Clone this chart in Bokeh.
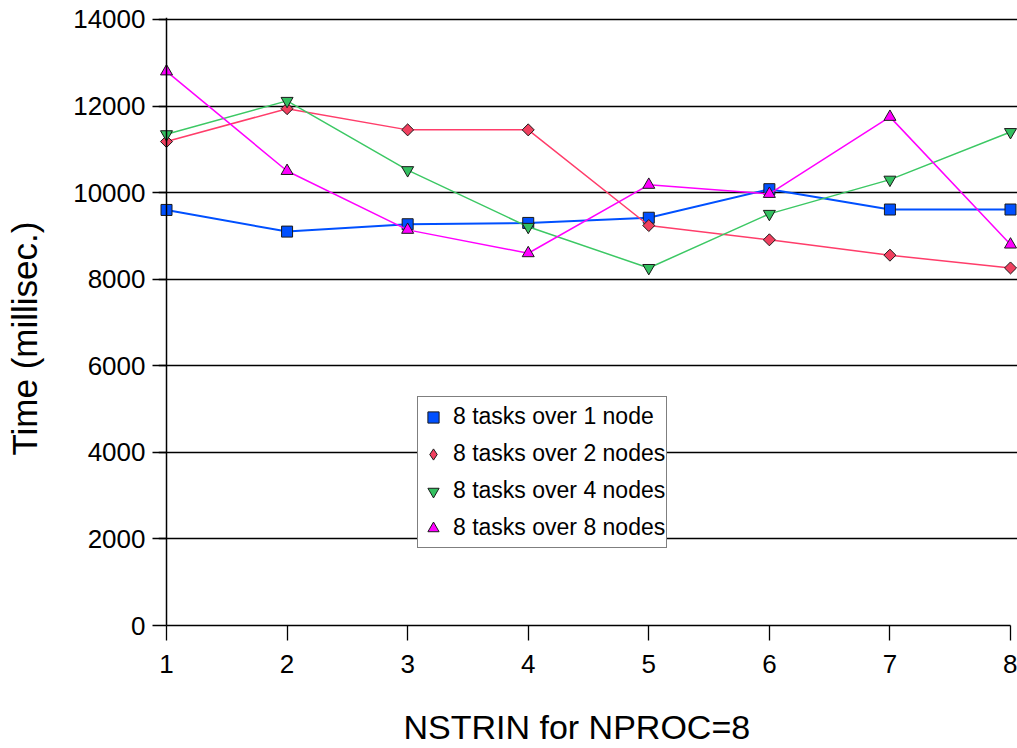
from bokeh.plotting import figure
from bokeh.models import Range1d, Legend, LegendItem, FixedTicker, Grid, Span, Title
from bokeh.embed import file_html
from bokeh.resources import INLINE
import numpy as np

# ---- data ----
nstrin = [1, 2, 3, 4, 5, 6, 7, 8]
one_node = [9600, 9100, 9270, 9300, 9420, 10080, 9610, 9610]
two_nodes = [11180, 11940, 11450, 11450, 9240, 8910, 8555, 8260]
four_nodes = [11350, 12120, 10520, 9210, 8260, 9510, 10300, 11400]
eight_nodes = [12800, 10500, 9140, 8600, 10180, 9970, 11750, 8800]
y_ticks = [0, 2000, 4000, 6000, 8000, 10000, 12000, 14000]
series_labels = ["8 tasks over 1 node", "8 tasks over 2 nodes",
                 "8 tasks over 4 nodes", "8 tasks over 8 nodes"]
x_title = "NSTRIN for NPROC=8"
y_title = "Time (millisec.)"

FONT = "Liberation Sans"

p = figure(width=1017, height=748,
           x_range=Range1d(0.9336, 8.058), y_range=Range1d(0, 14046),
           output_backend="svg", toolbar_location=None,
           min_border_left=158, min_border_right=0,
           min_border_top=17, min_border_bottom=123)
p.outline_line_color = None
p.background_fill_color = "white"
p.border_fill_color = "white"
p.xgrid.visible = False
p.ygrid.visible = False

grid = Grid(dimension=1, ticker=FixedTicker(ticks=y_ticks),
            grid_line_color="black", grid_line_width=1.3)
p.add_layout(grid)

xa = p.xaxis[0]
xa.ticker = FixedTicker(ticks=nstrin)
xa.bounds = (1, 8)
xa.major_tick_out = 15
xa.major_tick_in = 0
xa.minor_tick_line_color = None
xa.axis_line_width = 1.5
xa.major_tick_line_width = 1.3
xa.major_label_text_font = FONT
xa.major_label_text_font_size = "26px"
xa.major_label_text_color = "black"
xa.major_label_standoff = 14

ya = p.yaxis[0]
ya.ticker = FixedTicker(ticks=y_ticks)
ya.axis_line_color = None
ya.major_tick_out = 6
ya.major_tick_in = 8
ya.minor_tick_line_color = None
ya.major_tick_line_width = 1.3
ya.major_label_text_font = FONT
ya.major_label_text_font_size = "26px"
ya.major_label_text_color = "black"
ya.major_label_standoff = 7

# y axis line at x = 1
p.add_layout(Span(location=nstrin[0], dimension="height",
                  line_color="black", line_width=1.5))

# spacers between the axes and their titles
p.add_layout(Title(text=" ", text_font_size="1px", standoff=27), "below")
p.add_layout(Title(text=" ", text_font_size="1px", standoff=24), "left")

# axis titles
p.add_layout(Title(text=x_title, align="left", offset=245,
                   vertical_align="bottom", standoff=0,
                   text_font=FONT, text_font_size="34px",
                   text_font_style="normal", text_color="black"), "below")
p.add_layout(Title(text=y_title, align="left", offset=170,
                   vertical_align="bottom", standoff=0,
                   text_font=FONT, text_font_size="35px",
                   text_font_style="normal", text_color="black"), "left")

specs = [
    (one_node, "#0050ff", "#0050ff", "square", 11, 0, 2.0, "square"),
    (two_nodes, "#ff3d6a", "#f0405f", "square", 8.5, np.pi / 4, 1.5, "diamond"),
    (four_nodes, "#3cc864", "#33c060", "inverted_triangle", 12, 0, 1.5, "inverted_triangle"),
    (eight_nodes, "#ff00ff", "#ff00ff", "triangle", 12, 0, 1.5, "triangle"),
]

items = []
nan = [float("nan")]
for (vals, lc, fc, marker, size, ang, lw, lmarker), lab in zip(specs, series_labels):
    p.line(nstrin, vals, line_color=lc, line_width=lw)
    r = p.scatter(nstrin, vals, marker=marker, size=size, angle=ang,
                  fill_color=fc, line_color="#1a1a1a", line_width=1)
    if lmarker != marker:
        r = p.scatter(nan, nan, marker=lmarker, size=size,
                      fill_color=fc, line_color="#1a1a1a", line_width=1)
    items.append(LegendItem(label=lab, renderers=[r]))

legend = Legend(items=items, location=(259, 77),
                border_line_color="black", border_line_width=1,
                background_fill_color="white", background_fill_alpha=1,
                label_text_font=FONT, label_text_font_size="23px",
                label_text_color="black",
                glyph_width=28, glyph_height=28, label_height=37,
                spacing=0, padding=1, label_standoff=6, margin=0)
p.add_layout(legend)

open("out.html", "w").write(file_html(p, INLINE))
